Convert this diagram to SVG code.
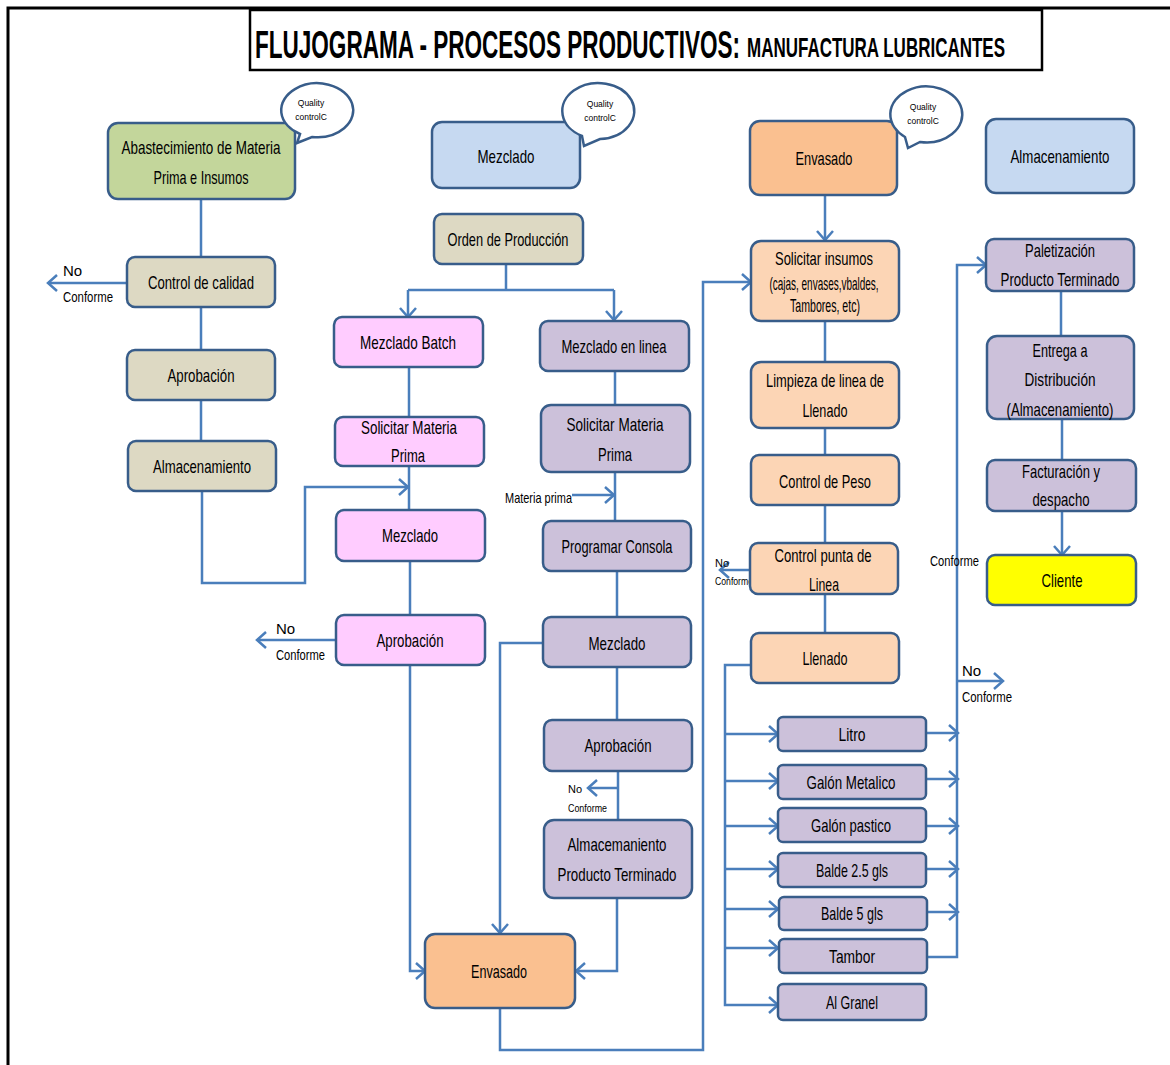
<svg xmlns="http://www.w3.org/2000/svg" width="1170" height="1065" viewBox="0 0 1170 1065">
<style>
.n{stroke:#385d8a;stroke-width:2.5}
.t{font-family:"Liberation Sans Narrow","Liberation Sans",Arial,sans-serif;font-size:19px;fill:#000;text-anchor:middle}
.s{font-family:"Liberation Sans Narrow","Liberation Sans",Arial,sans-serif;font-size:15px;fill:#000}
.xs{font-family:"Liberation Sans Narrow","Liberation Sans",Arial,sans-serif;font-size:11px;fill:#000}
.q{font-family:"Liberation Sans Narrow","Liberation Sans",Arial,sans-serif;font-size:8.5px;fill:#000;text-anchor:middle}
.h{font-family:"Liberation Sans Narrow","Liberation Sans",Arial,sans-serif;font-weight:bold;fill:#000}
.b{fill:#fff;stroke:#385d8a;stroke-width:2.5}
.c{fill:none;stroke:#4a7ebb;stroke-width:2.5}
.g{fill:#c3d69b}.tn{fill:#ddd9c3}.bl{fill:#c6d9f1}.pk{fill:#ffccff}.pu{fill:#ccc1da}.od{fill:#fac090}.ol{fill:#fcd5b5}.ye{fill:#ffff00}
</style>
<defs>
<marker id="a" markerUnits="userSpaceOnUse" markerWidth="14" markerHeight="20" refX="11" refY="10" orient="auto"><path d="M2,2 L11,10 L2,18" fill="none" stroke="#4a7ebb" stroke-width="2.5"/></marker>
</defs>
<rect width="1170" height="1065" fill="#fff"/>
<path d="M8,1065 V8 H1170" fill="none" stroke="#000" stroke-width="3"/>
<g id="title">
<rect x="250" y="10" width="792" height="60" fill="#fff" stroke="#000" stroke-width="2.5"/>
<text class="h" transform="translate(255,58) scale(1,1.75)" font-size="22.4" textLength="485" lengthAdjust="spacingAndGlyphs">FLUJOGRAMA - PROCESOS PRODUCTIVOS:</text>
<text class="h" transform="translate(747,57) scale(1,1.6)" font-size="16.9" textLength="258" lengthAdjust="spacingAndGlyphs">MANUFACTURA LUBRICANTES</text>
</g>
<g id="connectors">
<path class="c" d="M201,199 V257 M201,307 V350 M201,400 V441"/>
<path class="c" d="M202,491 V583 H305 V487 H408" marker-end="url(#a)"/>
<path class="c" d="M127,283 H48" marker-end="url(#a)"/>
<path class="c" d="M506,264 V290 M408,290 H614"/>
<path class="c" d="M408,290 V317" marker-end="url(#a)"/>
<path class="c" d="M614,290 V320" marker-end="url(#a)"/>
<path class="c" d="M409,367 V417 M409,466 V510 M410,561 V615"/>
<path class="c" d="M410,665 V971 H425" marker-end="url(#a)"/>
<path class="c" d="M336,640 H257" marker-end="url(#a)"/>
<path class="c" d="M615,371 V405 M615,472 V521 M617,571 V617 M617,667 V720 M618,771 V820"/>
<path class="c" d="M572,495 H614" marker-end="url(#a)"/>
<path class="c" d="M618,788 H588" marker-end="url(#a)"/>
<path class="c" d="M543,643 H500 V933" marker-end="url(#a)"/>
<path class="c" d="M617,898 V971 H576" marker-end="url(#a)"/>
<path class="c" d="M500,1008 V1050 H703 V282 H751" marker-end="url(#a)"/>
<path class="c" d="M825,195 V240" marker-end="url(#a)"/>
<path class="c" d="M825,321 V362 M825,428 V455 M825,505 V543 M825,594 V633"/>
<path class="c" d="M750,570 H720" marker-end="url(#a)"/>
<path class="c" d="M751,665 H725 V1005 H778" marker-end="url(#a)"/>
<path class="c" d="M725,734 H778" marker-end="url(#a)"/>
<path class="c" d="M725,781 H778" marker-end="url(#a)"/>
<path class="c" d="M725,826 H778" marker-end="url(#a)"/>
<path class="c" d="M725,869 H778" marker-end="url(#a)"/>
<path class="c" d="M725,909 H778" marker-end="url(#a)"/>
<path class="c" d="M725,948 H778" marker-end="url(#a)"/>
<path class="c" d="M926,733 H958" marker-end="url(#a)"/>
<path class="c" d="M926,779 H958" marker-end="url(#a)"/>
<path class="c" d="M926,826 H958" marker-end="url(#a)"/>
<path class="c" d="M926,869 H958" marker-end="url(#a)"/>
<path class="c" d="M926,912 H958" marker-end="url(#a)"/>
<path class="c" d="M926,957 H957 V265 H986" marker-end="url(#a)"/>
<path class="c" d="M957,681 H1003" marker-end="url(#a)"/>
<path class="c" d="M1061,291 V336 M1062,419 V460"/>
<path class="c" d="M1062,511 V555" marker-end="url(#a)"/>
</g>
<g id="labels">
<text class="s" x="63" y="276">No</text>
<text class="s" x="63" y="302" textLength="50" lengthAdjust="spacingAndGlyphs">Conforme</text>
<text class="s" x="276" y="634">No</text>
<text class="s" x="276" y="660" textLength="49" lengthAdjust="spacingAndGlyphs">Conforme</text>
<text class="s" x="505" y="503" font-size="13" textLength="67" lengthAdjust="spacingAndGlyphs">Materia prima</text>
<text class="xs" x="568" y="793">No</text>
<text class="xs" x="568" y="812" textLength="39" lengthAdjust="spacingAndGlyphs">Conforme</text>
<text class="xs" x="715" y="567">No</text>
<text class="xs" x="715" y="585" textLength="38" lengthAdjust="spacingAndGlyphs">Conforme</text>
<text class="s" x="930" y="566" textLength="49" lengthAdjust="spacingAndGlyphs">Conforme</text>
<text class="s" x="962" y="676">No</text>
<text class="s" x="962" y="702" textLength="50" lengthAdjust="spacingAndGlyphs">Conforme</text>
</g>
<g id="n-abastecimiento">
<rect class="n g" x="108" y="123" width="187" height="76" rx="10"/>
<text class="t" x="201" y="154" textLength="159" lengthAdjust="spacingAndGlyphs">Abastecimiento de Materia</text>
<text class="t" x="201" y="184" textLength="95" lengthAdjust="spacingAndGlyphs">Prima e Insumos</text>
</g>
<g id="bubble-1">
<path class="b" d="M300,134 L297,143 L312,137 A36,27 0 1 0 300,134 Z"/>
<text class="q" x="311" y="106">Quality</text>
<text class="q" x="311" y="120">controlC</text>
</g>
<g id="n-control-calidad">
<rect class="n tn" x="127" y="257" width="148" height="50" rx="8"/>
<text class="t" x="201" y="289" textLength="106" lengthAdjust="spacingAndGlyphs">Control de calidad</text>
</g>
<g id="n-aprobacion-1">
<rect class="n tn" x="127" y="350" width="148" height="50" rx="8"/>
<text class="t" x="201" y="382" textLength="67" lengthAdjust="spacingAndGlyphs">Aprobación</text>
</g>
<g id="n-almacenamiento-1">
<rect class="n tn" x="128" y="441" width="148" height="50" rx="8"/>
<text class="t" x="202" y="473" textLength="98" lengthAdjust="spacingAndGlyphs">Almacenamiento</text>
</g>
<g id="n-mezclado-header">
<rect class="n bl" x="432" y="122" width="148" height="66" rx="10"/>
<text class="t" x="506" y="163" textLength="57" lengthAdjust="spacingAndGlyphs">Mezclado</text>
</g>
<g id="bubble-2">
<path class="b" d="M582,136 L584,146 L600,139 A36,28 0 1 0 582,136 Z"/>
<text class="q" x="600" y="107">Quality</text>
<text class="q" x="600" y="121">controlC</text>
</g>
<g id="n-orden">
<rect class="n tn" x="434" y="214" width="149" height="50" rx="8"/>
<text class="t" x="508" y="246" textLength="121" lengthAdjust="spacingAndGlyphs">Orden de Producción</text>
</g>
<g id="n-mezclado-batch">
<rect class="n pk" x="334" y="317" width="149" height="50" rx="8"/>
<text class="t" x="408" y="349" textLength="96" lengthAdjust="spacingAndGlyphs">Mezclado  Batch</text>
</g>
<g id="n-solicitar-mp-1">
<rect class="n pk" x="335" y="417" width="149" height="49" rx="8"/>
<text class="t" x="409" y="434" textLength="96" lengthAdjust="spacingAndGlyphs">Solicitar Materia</text>
<text class="t" x="408" y="462" textLength="34" lengthAdjust="spacingAndGlyphs">Prima</text>
</g>
<g id="n-mezclado-1">
<rect class="n pk" x="336" y="510" width="149" height="51" rx="8"/>
<text class="t" x="410" y="542" textLength="56" lengthAdjust="spacingAndGlyphs">Mezclado</text>
</g>
<g id="n-aprobacion-2">
<rect class="n pk" x="336" y="615" width="149" height="50" rx="8"/>
<text class="t" x="410" y="647" textLength="67" lengthAdjust="spacingAndGlyphs">Aprobación</text>
</g>
<g id="n-mezclado-linea">
<rect class="n pu" x="540" y="321" width="149" height="50" rx="8"/>
<text class="t" x="614" y="353" textLength="105" lengthAdjust="spacingAndGlyphs">Mezclado en linea</text>
</g>
<g id="n-solicitar-mp-2">
<rect class="n pu" x="541" y="405" width="149" height="67" rx="10"/>
<text class="t" x="615" y="431" textLength="97" lengthAdjust="spacingAndGlyphs">Solicitar Materia</text>
<text class="t" x="615" y="461" textLength="34" lengthAdjust="spacingAndGlyphs">Prima</text>
</g>
<g id="n-programar">
<rect class="n pu" x="543" y="521" width="148" height="50" rx="8"/>
<text class="t" x="617" y="553" textLength="111" lengthAdjust="spacingAndGlyphs">Programar Consola</text>
</g>
<g id="n-mezclado-2">
<rect class="n pu" x="543" y="617" width="148" height="50" rx="8"/>
<text class="t" x="617" y="650" textLength="57" lengthAdjust="spacingAndGlyphs">Mezclado</text>
</g>
<g id="n-aprobacion-3">
<rect class="n pu" x="544" y="720" width="148" height="51" rx="8"/>
<text class="t" x="618" y="752" textLength="67" lengthAdjust="spacingAndGlyphs">Aprobación</text>
</g>
<g id="n-almac-pt">
<rect class="n pu" x="544" y="820" width="148" height="78" rx="10"/>
<text class="t" x="617" y="851" textLength="99" lengthAdjust="spacingAndGlyphs">Almacemaniento</text>
<text class="t" x="617" y="881" textLength="119" lengthAdjust="spacingAndGlyphs">Producto Terminado</text>
</g>
<g id="n-envasado-1">
<rect class="n od" x="425" y="934" width="150" height="74" rx="10"/>
<text class="t" x="499" y="978" textLength="56" lengthAdjust="spacingAndGlyphs">Envasado</text>
</g>
<g id="n-envasado-header">
<rect class="n od" x="750" y="121" width="147" height="74" rx="10"/>
<text class="t" x="824" y="165" textLength="57" lengthAdjust="spacingAndGlyphs">Envasado</text>
</g>
<g id="bubble-3">
<path class="b" d="M905,137 L908,148 L920,142 A36,28 0 1 0 905,137 Z"/>
<text class="q" x="923" y="110">Quality</text>
<text class="q" x="923" y="124">controlC</text>
</g>
<g id="n-solicitar-insumos">
<rect class="n ol" x="751" y="241" width="148" height="80" rx="10"/>
<text class="t" x="824" y="265" textLength="98" lengthAdjust="spacingAndGlyphs">Solicitar insumos</text>
<text class="t" x="824" y="290" font-size="14" textLength="109" lengthAdjust="spacingAndGlyphs">(cajas, envases,vbaldes,</text>
<text class="t" x="825" y="312" font-size="14" textLength="70" lengthAdjust="spacingAndGlyphs">Tambores, etc)</text>
</g>
<g id="n-limpieza">
<rect class="n ol" x="751" y="362" width="148" height="66" rx="10"/>
<text class="t" x="825" y="387" textLength="118" lengthAdjust="spacingAndGlyphs">Limpieza de linea de</text>
<text class="t" x="825" y="417" textLength="45" lengthAdjust="spacingAndGlyphs">Llenado</text>
</g>
<g id="n-control-peso">
<rect class="n ol" x="751" y="455" width="148" height="50" rx="8"/>
<text class="t" x="825" y="488" textLength="92" lengthAdjust="spacingAndGlyphs">Control de Peso</text>
</g>
<g id="n-control-punta">
<rect class="n ol" x="750" y="543" width="148" height="51" rx="8"/>
<text class="t" x="823" y="562" textLength="97" lengthAdjust="spacingAndGlyphs">Control punta de</text>
<text class="t" x="824" y="591" textLength="30" lengthAdjust="spacingAndGlyphs">Linea</text>
</g>
<g id="n-llenado">
<rect class="n ol" x="751" y="633" width="148" height="50" rx="8"/>
<text class="t" x="825" y="665" textLength="45" lengthAdjust="spacingAndGlyphs">Llenado</text>
</g>
<g id="n-litro">
<rect class="n pu" x="778" y="717" width="148" height="34" rx="5"/>
<text class="t" x="852" y="741" textLength="27" lengthAdjust="spacingAndGlyphs">Litro</text>
</g>
<g id="n-galon-metalico">
<rect class="n pu" x="778" y="765" width="148" height="34" rx="5"/>
<text class="t" x="851" y="789" textLength="89" lengthAdjust="spacingAndGlyphs">Galón Metalico</text>
</g>
<g id="n-galon-pastico">
<rect class="n pu" x="778" y="808" width="148" height="34" rx="5"/>
<text class="t" x="851" y="832" textLength="80" lengthAdjust="spacingAndGlyphs">Galón pastico</text>
</g>
<g id="n-balde-25">
<rect class="n pu" x="778" y="853" width="148" height="34" rx="5"/>
<text class="t" x="852" y="877" textLength="72" lengthAdjust="spacingAndGlyphs">Balde 2.5 gls</text>
</g>
<g id="n-balde-5">
<rect class="n pu" x="779" y="897" width="148" height="33" rx="5"/>
<text class="t" x="852" y="920" textLength="62" lengthAdjust="spacingAndGlyphs">Balde 5 gls</text>
</g>
<g id="n-tambor">
<rect class="n pu" x="779" y="939" width="148" height="34" rx="5"/>
<text class="t" x="852" y="963" textLength="46" lengthAdjust="spacingAndGlyphs">Tambor</text>
</g>
<g id="n-granel">
<rect class="n pu" x="778" y="984" width="148" height="36" rx="5"/>
<text class="t" x="852" y="1009" textLength="52" lengthAdjust="spacingAndGlyphs">Al Granel</text>
</g>
<g id="n-almacenamiento-header">
<rect class="n bl" x="986" y="119" width="148" height="74" rx="10"/>
<text class="t" x="1060" y="163" textLength="99" lengthAdjust="spacingAndGlyphs">Almacenamiento</text>
</g>
<g id="n-paletizacion">
<rect class="n pu" x="986" y="239" width="148" height="52" rx="8"/>
<text class="t" x="1060" y="257" textLength="70" lengthAdjust="spacingAndGlyphs">Paletización</text>
<text class="t" x="1060" y="286" textLength="119" lengthAdjust="spacingAndGlyphs">Producto Terminado</text>
</g>
<g id="n-entrega">
<rect class="n pu" x="987" y="336" width="147" height="83" rx="10"/>
<text class="t" x="1060" y="357" textLength="55" lengthAdjust="spacingAndGlyphs">Entrega a</text>
<text class="t" x="1060" y="386" textLength="71" lengthAdjust="spacingAndGlyphs">Distribución</text>
<text class="t" x="1060" y="416" textLength="107" lengthAdjust="spacingAndGlyphs">(Almacenamiento)</text>
</g>
<g id="n-facturacion">
<rect class="n pu" x="987" y="460" width="149" height="51" rx="8"/>
<text class="t" x="1061" y="478" textLength="78" lengthAdjust="spacingAndGlyphs">Facturación y</text>
<text class="t" x="1061" y="506" textLength="57" lengthAdjust="spacingAndGlyphs">despacho</text>
</g>
<g id="n-cliente">
<rect class="n ye" x="987" y="555" width="149" height="50" rx="8"/>
<text class="t" x="1062" y="587" textLength="41" lengthAdjust="spacingAndGlyphs">Cliente</text>
</g>
</svg>
